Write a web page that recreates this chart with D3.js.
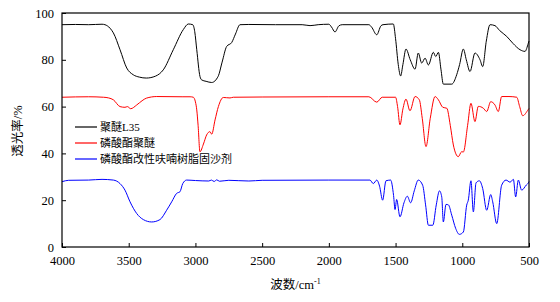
<!DOCTYPE html>
<html>
<head>
<meta charset="utf-8">
<script src="https://cdn.jsdelivr.net/npm/d3@7"></script>
<style>
  html, body { margin: 0; padding: 0; background: #fff; }
  svg text { font-family: "Liberation Serif", "Times New Roman", serif; }
  .cjk { font-family: "Liberation Serif", "Noto Sans CJK SC", serif; }
</style>
</head>
<body>
<div id="chart"></div>
<script>
// ━━━━━━━━━━━━━━━━━━━━━━━━━━━━━━━━━━━━━━━━━━━━━━━━━━━━━━━━━━━━━━━━━━━━━━
// Data: [wavenumber (cm-1), transmittance (%)]
// ━━━━━━━━━━━━━━━━━━━━━━━━━━━━━━━━━━━━━━━━━━━━━━━━━━━━━━━━━━━━━━━━━━━━━━

const seriesNames = ['聚醚L35', '磷酸酯聚醚', '磷酸酯改性呋喃树脂固沙剂'];
const seriesColors = ['#000000', '#ff0000', '#0000ff'];

const xTicks = [4000, 3500, 3000, 2500, 2000, 1500, 1000, 500];
const yTicks = [0, 20, 40, 60, 80, 100];

const polyetherL35 = [
  [4000,95],[3900,95.1],[3800,95],[3700,95.2],[3678,95],[3640,93.5],[3615,91.5],[3565,84.3],
  [3515,76.5],[3466,73.6],[3420,72.6],[3368,72.2],[3300,73],[3241,75.7],[3166,84.3],[3091,92.9],
  [3053,95.3],[3020,95],[3005,92],[2990,84.3],[2966,72.9],[2953,71.4],[2920,70.8],[2878,70.3],
  [2830,72.9],[2800,79],[2766,85.7],[2728,87.4],[2700,91],[2666,95],[2600,95.1],[2400,95],
  [2200,95],[2141,94.6],[2080,95],[2000,95.2],[1980,94],[1954,91.9],[1925,94.5],[1900,95],
  [1700,95],[1680,94],[1641,90.7],[1610,94.5],[1594,95],[1517,95.3],[1500,89],[1480,78],
  [1462,73.1],[1445,78],[1422,84.6],[1390,80],[1354,76],[1330,82.9],[1304,78.6],[1279,80.7],
  [1254,77.8],[1217,83.2],[1199,81.4],[1179,83.2],[1160,76],[1142,69.6],[1079,69.6],[1042,73.6],
  [1020,78],[992,84.6],[970,80],[942,75],[905,82.9],[867,80],[847,77.1],[820,88],[792,95],
  [755,94.6],[720,92.5],[667,90],[620,87],[567,84.3],[530,83.6],[505,87.1],[500,88]
];

const phosphatePolyether = [
  [4000,64],[3800,64.2],[3690,64],[3650,63.7],[3615,62.9],[3565,60],[3528,59.7],[3510,60],
  [3485,59.1],[3440,60.7],[3400,62.5],[3368,63.6],[3290,64.3],[3100,64.2],[3040,64.2],[3016,64],
  [3000,62],[2990,58.6],[2980,52],[2966,40.7],[2940,44],[2916,47.9],[2891,49.3],[2878,48.2],
  [2853,54.3],[2828,60],[2791,63.9],[2741,63.7],[2716,64],[2500,64.1],[2000,64.2],[1700,64.2],
  [1641,61.9],[1600,64],[1500,64],[1485,60],[1467,52.2],[1445,59],[1422,63.2],[1392,58.2],
  [1354,64.3],[1322,62.9],[1300,55],[1272,42.9],[1240,55],[1204,64.3],[1179,62.9],[1146,59.7],
  [1116,59.3],[1090,52],[1067,43.6],[1030,38.6],[1005,40.7],[992,40.6],[960,52],[935,61.4],
  [905,53.6],[880,60.1],[842,59.3],[817,57.9],[787,62.1],[755,60.7],[730,57.9],[705,64.3],
  [650,64.3],[592,64],[570,60],[547,56.1],[505,58.8],[500,59.2]
];

const sandFixer = [
  [4000,27.9],[3950,28.5],[3800,28.6],[3700,28.9],[3615,28.6],[3565,27.1],[3528,24.3],[3490,19.3],
  [3440,14.3],[3390,11.7],[3328,10.7],[3266,11.7],[3216,15.7],[3178,19.3],[3141,22.9],[3116,23.6],
  [3095,27.1],[3066,28.6],[3000,28.4],[2900,28.2],[2880,28.6],[2860,28.0],[2840,28.7],[2820,28.1],
  [2750,28.5],[2600,28.2],[2500,28.5],[2000,28.6],[1692,28.6],[1667,27.1],[1641,28.6],[1620,26],
  [1597,20],[1572,28.3],[1537,28.6],[1515,22],[1504,16],[1492,20.3],[1467,12.9],[1437,18.9],
  [1412,21.7],[1387,18.9],[1360,24],[1330,28.6],[1297,26.4],[1275,18],[1254,9.3],[1221,9.3],
  [1195,18],[1171,24],[1154,21.4],[1142,10.7],[1122,18.2],[1104,18],[1079,13.6],[1050,8],
  [1022,5.4],[992,6.4],[967,17.9],[955,20],[935,28.3],[917,15],[897,27.4],[872,28.3],[847,25],
  [817,15.7],[787,22.4],[772,19.3],[742,10],[705,26.4],[672,28.6],[642,27.7],[617,28.9],
  [600,21.4],[580,28.6],[555,24.3],[520,26.5],[505,27.4],[500,28]
];

const allSeries = [polyetherL35, phosphatePolyether, sandFixer];

// ━━━━━━━━━━━━━━━━━━━━━━━━━━━━━━━━━━━━━━━━━━━━━━━━━━━━━━━━━━━━━━━━━━━━━━
// SVG setup
// ━━━━━━━━━━━━━━━━━━━━━━━━━━━━━━━━━━━━━━━━━━━━━━━━━━━━━━━━━━━━━━━━━━━━━━

const width = 560, height = 302;
const margin = { top: 13, right: 31, bottom: 55, left: 62 };
const iw = width - margin.left - margin.right;
const ih = height - margin.top - margin.bottom;

const svg = d3.select('#chart').append('svg')
  .attr('width', width)
  .attr('height', height)
  .attr('viewBox', [0, 0, width, height]);

const g = svg.append('g').attr('transform', `translate(${margin.left},${margin.top})`);

const x = d3.scaleLinear().domain([4000, 500]).range([0, iw]);
const y = d3.scaleLinear().domain([0, 100]).range([ih, 0]);

// axes (ticks pointing inward)
const xAxis = g.append('g')
  .attr('transform', `translate(0,${ih})`)
  .call(d3.axisBottom(x).tickValues(xTicks).tickFormat(d3.format('d')).tickSizeInner(-4).tickSizeOuter(0).tickPadding(9));

const yAxis = g.append('g')
  .call(d3.axisLeft(y).tickValues(yTicks).tickSizeInner(-4).tickSizeOuter(0).tickPadding(8));

[xAxis, yAxis].forEach(a => {
  a.select('.domain').remove();
  a.selectAll('text').attr('font-size', 12.5).attr('fill', '#000').attr('font-family', '"Liberation Serif", serif');
  a.selectAll('line').attr('stroke', '#000');
});

// lines
const line = d3.line()
  .x(d => x(d[0]))
  .y(d => y(d[1]))
  .curve(d3.curveMonotoneX);

g.append('g').selectAll('path')
  .data(allSeries)
  .join('path')
  .attr('d', line)
  .attr('fill', 'none')
  .attr('stroke', (d, i) => seriesColors[i])
  .attr('stroke-width', 1);

// frame
g.append('rect')
  .attr('width', iw).attr('height', ih)
  .attr('fill', 'none').attr('stroke', '#000').attr('stroke-width', 1.2);

// legend
const legend = g.append('g').attr('transform', 'translate(13,114)');
const lg = legend.selectAll('g')
  .data(seriesNames)
  .join('g')
  .attr('transform', (d, i) => `translate(0,${i * 16})`);

lg.append('line')
  .attr('x1', 0).attr('x2', 22)
  .attr('stroke', (d, i) => seriesColors[i])
  .attr('stroke-width', 1.6)
  .attr('stroke-opacity', 0.75);

lg.append('text')
  .attr('class', 'cjk')
  .attr('x', 25)
  .attr('dy', '0.36em')
  .attr('font-size', 11)
  .attr('fill', '#000')
  .text(d => d);

// axis titles
svg.append('text')
  .attr('class', 'cjk')
  .attr('transform', `translate(22,${margin.top + 118}) rotate(-90)`)
  .attr('text-anchor', 'middle')
  .attr('font-size', 12.5)
  .attr('fill', '#000')
  .text('透光率/%');

const xt = svg.append('text')
  .attr('class', 'cjk')
  .attr('x', margin.left + iw / 2 + 0)
  .attr('y', 289)
  .attr('text-anchor', 'middle')
  .attr('font-size', 12.5)
  .attr('fill', '#000');
xt.append('tspan').text('波数/cm');
xt.append('tspan').attr('dy', -5).attr('font-size', 8).text('-1');
</script>
</body>
</html>
